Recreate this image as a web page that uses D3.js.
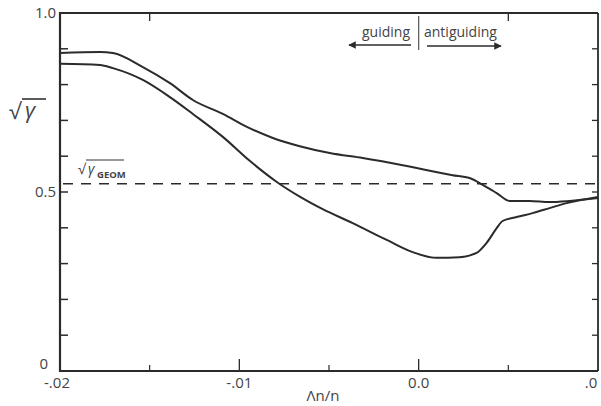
<!DOCTYPE html>
<html><head><meta charset="utf-8">
<script src="https://cdn.jsdelivr.net/npm/d3@7"></script>
<style>
html,body{margin:0;padding:0;background:#fff;}
svg{display:block;}
text{font-family:"Open Sans","DejaVu Sans",sans-serif;fill:#444;}
</style></head>
<body>
<svg id="c" width="601" height="406"></svg>
<script>
// x values (Δn/n)
const upperX = [-0.02,-0.01777,-0.01705,-0.01538,-0.01387,-0.01259,-0.01092,-0.00958,-0.00813,-0.00663,-0.00496,-0.00312,-0.00089,0.00189,0.00284,0.00357,0.00435,0.00507,0.00618,0.00730,0.00841,0.01];
const upperY = [0.888,0.891,0.888,0.849,0.804,0.757,0.718,0.682,0.651,0.628,0.609,0.595,0.575,0.547,0.539,0.520,0.497,0.475,0.475,0.472,0.475,0.483];
const lowerX = [-0.02,-0.01777,-0.01705,-0.01538,-0.01387,-0.01259,-0.01092,-0.00942,-0.00791,-0.00663,-0.00535,-0.00368,-0.00178,-0.00033,0.00100,0.00228,0.00323,0.00379,0.00435,0.00468,0.00546,0.00635,0.00730,0.00825,0.01];
const lowerY = [0.858,0.855,0.846,0.813,0.765,0.718,0.654,0.587,0.528,0.487,0.452,0.413,0.366,0.332,0.316,0.318,0.330,0.358,0.399,0.419,0.430,0.441,0.455,0.469,0.486];
const geomValue = 0.523;
const xTickValues = [-0.02,-0.01,0.0,0.01];
const xTickLabels = ["-.02","-.01","0.0",".0"];
const xMinorTicks = [-0.015,-0.005,0.005];
const yTickValues = [0,0.5,1.0];
const yTickLabels = ["0","0.5","1.0"];
const yMinorTicks = [0.1,0.2,0.3,0.4,0.6,0.7,0.8,0.9];
const topTicks = [-0.015,0.005];

const svg = d3.select("#c");
const x = d3.scaleLinear().domain([-0.02,0.01]).range([60,598]);
const y = d3.scaleLinear().domain([0,1]).range([371,13]);
const ink = "#2b2b2b";

// frame
const frame = svg.append("g").attr("stroke",ink).attr("fill","none");
frame.append("line").attr("x1",x(-0.02)).attr("x2",x(-0.02)).attr("y1",y(0)+1).attr("y2",y(1)-1).attr("stroke-width",2.2);
frame.append("line").attr("x1",x(-0.02)).attr("x2",x(0.01)).attr("y1",y(0)).attr("y2",y(0)).attr("stroke-width",2.2);
frame.append("line").attr("x1",x(-0.02)).attr("x2",x(0.01)).attr("y1",y(1)).attr("y2",y(1)).attr("stroke-width",2);
frame.append("line").attr("x1",x(0.01)).attr("x2",x(0.01)).attr("y1",y(0)).attr("y2",y(1)).attr("stroke-width",1.8);

// left ticks (inward)
frame.selectAll(".lt").data(yMinorTicks.concat([0.5])).join("line")
  .attr("x1",x(-0.02)).attr("x2",x(-0.02)+8).attr("y1",d=>y(d)).attr("y2",d=>y(d)).attr("stroke-width",1.5);
// right ticks (inward)
frame.selectAll(".rt").data(yMinorTicks.concat([0.5])).join("line")
  .attr("x1",x(0.01)).attr("x2",x(0.01)-6).attr("y1",d=>y(d)).attr("y2",d=>y(d)).attr("stroke-width",1.3);
// bottom ticks
frame.selectAll(".bt").data(xTickValues.slice(1,3)).join("line")
  .attr("x1",d=>x(d)).attr("x2",d=>x(d)).attr("y1",y(0)).attr("y2",y(0)-12).attr("stroke-width",1.3);
frame.selectAll(".bm").data(xMinorTicks).join("line")
  .attr("x1",d=>x(d)).attr("x2",d=>x(d)).attr("y1",y(0)).attr("y2",y(0)-6).attr("stroke-width",1.2);
// top ticks
frame.selectAll(".tt").data(topTicks).join("line")
  .attr("x1",d=>x(d)).attr("x2",d=>x(d)).attr("y1",y(1)).attr("y2",y(1)+8).attr("stroke-width",1.3);

// tick labels
svg.selectAll(".yl").data(yTickValues).join("text")
  .attr("x",(d,i)=>i===0?48:56).attr("y",(d,i)=>i===0?y(d)-6:y(d)+1)
  .attr("text-anchor","end").attr("dominant-baseline","middle")
  .attr("font-size",15).attr("fill","#666").text((d,i)=>yTickLabels[i]);
svg.selectAll(".xl").data(xTickValues).join("text")
  .attr("x",(d,i)=>i===0?x(d)-3:(i===3?x(d)-7:x(d)))
  .attr("y",388).attr("text-anchor","middle")
  .attr("font-size",15).attr("fill","#666").text((d,i)=>xTickLabels[i]);

// axis title
svg.append("text").attr("x",323).attr("y",401).attr("text-anchor","middle")
  .attr("font-size",15).attr("fill","#333").text("Λn/n");

// y label √γ
const yl = svg.append("g");
yl.append("text").attr("x",9).attr("y",119).attr("font-size",22).attr("fill","#333").text("√");
yl.append("text").attr("x",25).attr("y",118).attr("font-size",22).attr("font-style","italic").attr("fill","#333").text("γ");
yl.append("line").attr("x1",22).attr("x2",46).attr("y1",99).attr("y2",99).attr("stroke","#333").attr("stroke-width",1.6);

// dashed geometric line
svg.append("line").attr("x1",x(-0.02)+3).attr("x2",x(0.01)).attr("y1",y(geomValue)).attr("y2",y(geomValue))
  .attr("stroke",ink).attr("stroke-width",1.5).attr("stroke-dasharray","10,8");

// √γ_GEOM label
const gl = svg.append("g");
gl.append("text").attr("x",78).attr("y",174).attr("font-size",14).attr("fill","#333").text("√");
gl.append("text").attr("x",88).attr("y",174).attr("font-size",14).attr("font-style","italic").attr("fill","#333").text("γ");
gl.append("text").attr("x",97).attr("y",178).attr("font-size",9.5).attr("font-weight","bold").attr("fill","#333").text("GEOM");
gl.append("line").attr("x1",86).attr("x2",124).attr("y1",160).attr("y2",160).attr("stroke","#333").attr("stroke-width",1.2);

// curves
const line = d3.line().x(d=>x(d[0])).y(d=>y(d[1])).curve(d3.curveMonotoneX);
const upper = upperX.map((v,i)=>[v,upperY[i]]);
const lower = lowerX.map((v,i)=>[v,lowerY[i]]);
svg.append("path").datum(upper).attr("d",line).attr("fill","none").attr("stroke",ink).attr("stroke-width",2);
svg.append("path").datum(lower).attr("d",line).attr("fill","none").attr("stroke",ink).attr("stroke-width",2);

// guiding / antiguiding annotation
svg.append("defs").append("marker").attr("id","ah").attr("viewBox","0 0 10 10").attr("refX",9).attr("refY",5)
  .attr("markerWidth",7).attr("markerHeight",5).attr("orient","auto-start-reverse")
  .append("path").attr("d","M0,0L10,5L0,10Z").attr("fill",ink);
svg.append("line").attr("x1",x(0)).attr("x2",x(0)).attr("y1",16).attr("y2",50).attr("stroke","#555").attr("stroke-width",1.2);
svg.append("text").attr("x",410).attr("y",37).attr("text-anchor","end").attr("font-size",14).attr("fill","#333").text("guiding");
svg.append("text").attr("x",424).attr("y",37).attr("font-size",14).attr("fill","#333").text("antiguiding");
svg.append("line").attr("x1",411).attr("x2",349).attr("y1",45).attr("y2",45).attr("stroke",ink).attr("stroke-width",1.5).attr("marker-end","url(#ah)");
svg.append("line").attr("x1",427).attr("x2",501).attr("y1",46).attr("y2",46).attr("stroke",ink).attr("stroke-width",1.5).attr("marker-end","url(#ah)");
</script>
</body></html>
